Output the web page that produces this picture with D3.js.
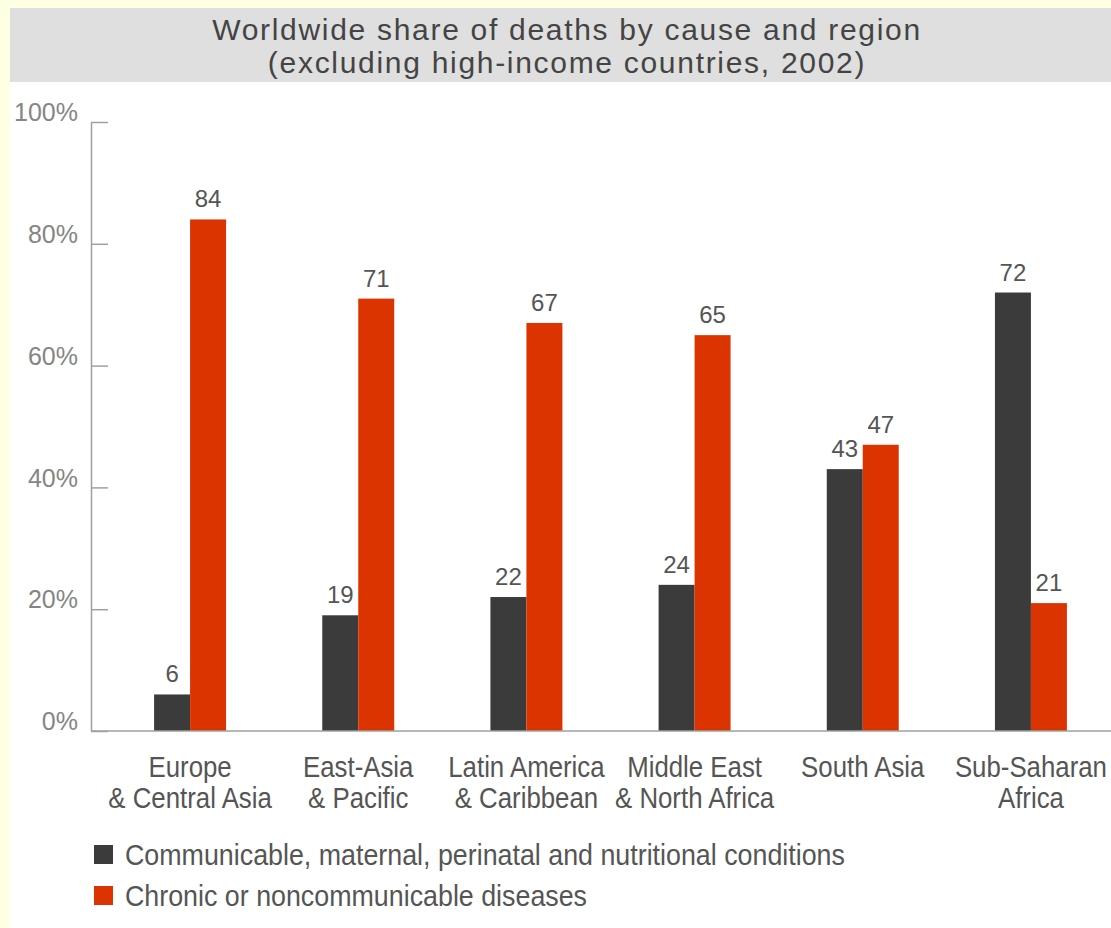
<!DOCTYPE html>
<html>
<head>
<meta charset="utf-8">
<script src="https://cdn.jsdelivr.net/npm/d3@7"></script>
<style>
  body { margin: 0; background: #ffffe3; }
  svg { display: block; }
  .lab { font-family: "Liberation Sans", Arial, sans-serif; }
</style>
</head>
<body>
<svg id="chart"></svg>
<script>
// data
const regions = [
  "Europe\n& Central Asia",
  "East-Asia\n& Pacific",
  "Latin America\n& Caribbean",
  "Middle East\n& North Africa",
  "South Asia",
  "Sub-Saharan\nAfrica"
];
const communicable = [6, 19, 22, 24, 43, 72];
const chronic = [84, 71, 67, 65, 47, 21];
const seriesNames = [
  "Communicable, maternal, perinatal and nutritional conditions",
  "Chronic or noncommunicable diseases"
];
const yTicks = [0, 20, 40, 60, 80, 100];
const titleLines = [
  "Worldwide share of deaths by cause and region",
  "(excluding high-income countries, 2002)"
];

const colors = ["#3b3b3b", "#dc3400"];

function draw() {
  const W = 1111, H = 928;
  const svg = d3.select("#chart").attr("width", W).attr("height", H);

  // white panel and grey title band
  svg.append("rect").attr("x", 10).attr("y", 8).attr("width", W - 10).attr("height", H - 8).attr("fill", "#fff");
  svg.append("rect").attr("x", 10).attr("y", 8).attr("width", W - 10).attr("height", 74).attr("fill", "#dedfde");

  const title = svg.append("text").attr("class", "lab")
    .attr("text-anchor", "middle")
    .attr("font-size", 30)
    .attr("letter-spacing", 1.7)
    .attr("fill", "#444");
  titleLines.forEach((t, i) => {
    title.append("tspan").attr("x", 567).attr("y", 40 + i * 33).text(t);
  });

  const axisX = 91;
  const y = d3.scaleLinear().domain([0, 100]).range([731, 122]);

  const x0 = d3.scaleBand()
    .domain(regions)
    .range([106, 1115])
    .paddingInner(0.572)
    .paddingOuter(0.286);

  const x1 = d3.scaleBand()
    .domain([0, 1])
    .range([0, x0.bandwidth()]);

  const rows = regions.map((r, i) => ({ region: r, values: [communicable[i], chronic[i]] }));

  // bars
  const groups = svg.append("g")
    .selectAll("g")
    .data(rows)
    .join("g")
    .attr("transform", d => `translate(${x0(d.region)},0)`);

  groups.selectAll("rect")
    .data(d => d.values.map((v, k) => ({ v, k })))
    .join("rect")
    .attr("x", d => x1(d.k))
    .attr("width", x1.bandwidth())
    .attr("y", d => y(d.v))
    .attr("height", d => y(0) - y(d.v))
    .attr("fill", d => colors[d.k]);

  groups.selectAll("text")
    .data(d => d.values.map((v, k) => ({ v, k })))
    .join("text")
    .attr("class", "lab")
    .attr("x", d => x1(d.k) + x1.bandwidth() / 2)
    .attr("y", d => y(d.v) - 12)
    .attr("text-anchor", "middle")
    .attr("font-size", 24)
    .attr("fill", "#555")
    .text(d => d.v);

  // y axis
  const yAxis = d3.axisLeft(y)
    .tickValues(yTicks)
    .tickSizeInner(-17)
    .tickSizeOuter(0)
    .tickPadding(13)
    .tickFormat(d => d + "%");

  const ya = svg.append("g")
    .attr("class", "y axis")
    .attr("transform", `translate(${axisX},0)`)
    .call(yAxis);
  ya.select(".domain").attr("stroke", "#a0a0a0").attr("stroke-width", 1.5);
  ya.selectAll(".tick line").attr("stroke", "#a0a0a0").attr("stroke-width", 1.5);
  ya.selectAll(".tick text")
    .attr("class", "lab")
    .attr("font-size", 25)
    .attr("fill", "#858585")
    .attr("dy", "-0.05em");

  // baseline
  svg.append("line")
    .attr("x1", axisX).attr("x2", W)
    .attr("y1", y(0)).attr("y2", y(0))
    .attr("stroke", "#a0a0a0").attr("stroke-width", 1.5);

  // category labels (squeezed a bit, the original uses a condensed face)
  const xAxis = d3.axisBottom(x0).tickSize(0).tickPadding(0);
  const xa = svg.append("g")
    .attr("class", "x axis")
    .attr("transform", `translate(0,${y(0)})`)
    .call(xAxis);
  xa.select(".domain").remove();
  xa.selectAll(".tick text")
    .attr("class", "lab")
    .attr("font-size", 29)
    .attr("fill", "#555")
    .attr("transform", "scale(0.89,1)")
    .each(function () {
      const el = d3.select(this);
      const parts = el.text().split("\n");
      el.text(null).attr("dy", null);
      parts.forEach((p, i) => {
        el.append("tspan").attr("x", 0).attr("y", 46 + i * 31).text(p);
      });
    });

  // legend
  const leg = svg.append("g").attr("transform", "translate(94,845)");
  seriesNames.forEach((name, i) => {
    leg.append("rect")
      .attr("x", 0).attr("y", i * 41)
      .attr("width", 19).attr("height", 19)
      .attr("fill", colors[i]);
    leg.append("g")
      .attr("transform", `translate(31,${i * 41 + 20})`)
      .append("text")
      .attr("class", "lab")
      .attr("transform", "scale(0.925,1)")
      .attr("font-size", 29)
      .attr("fill", "#555")
      .text(name);
  });
}

draw();
</script>
</body>
</html>
